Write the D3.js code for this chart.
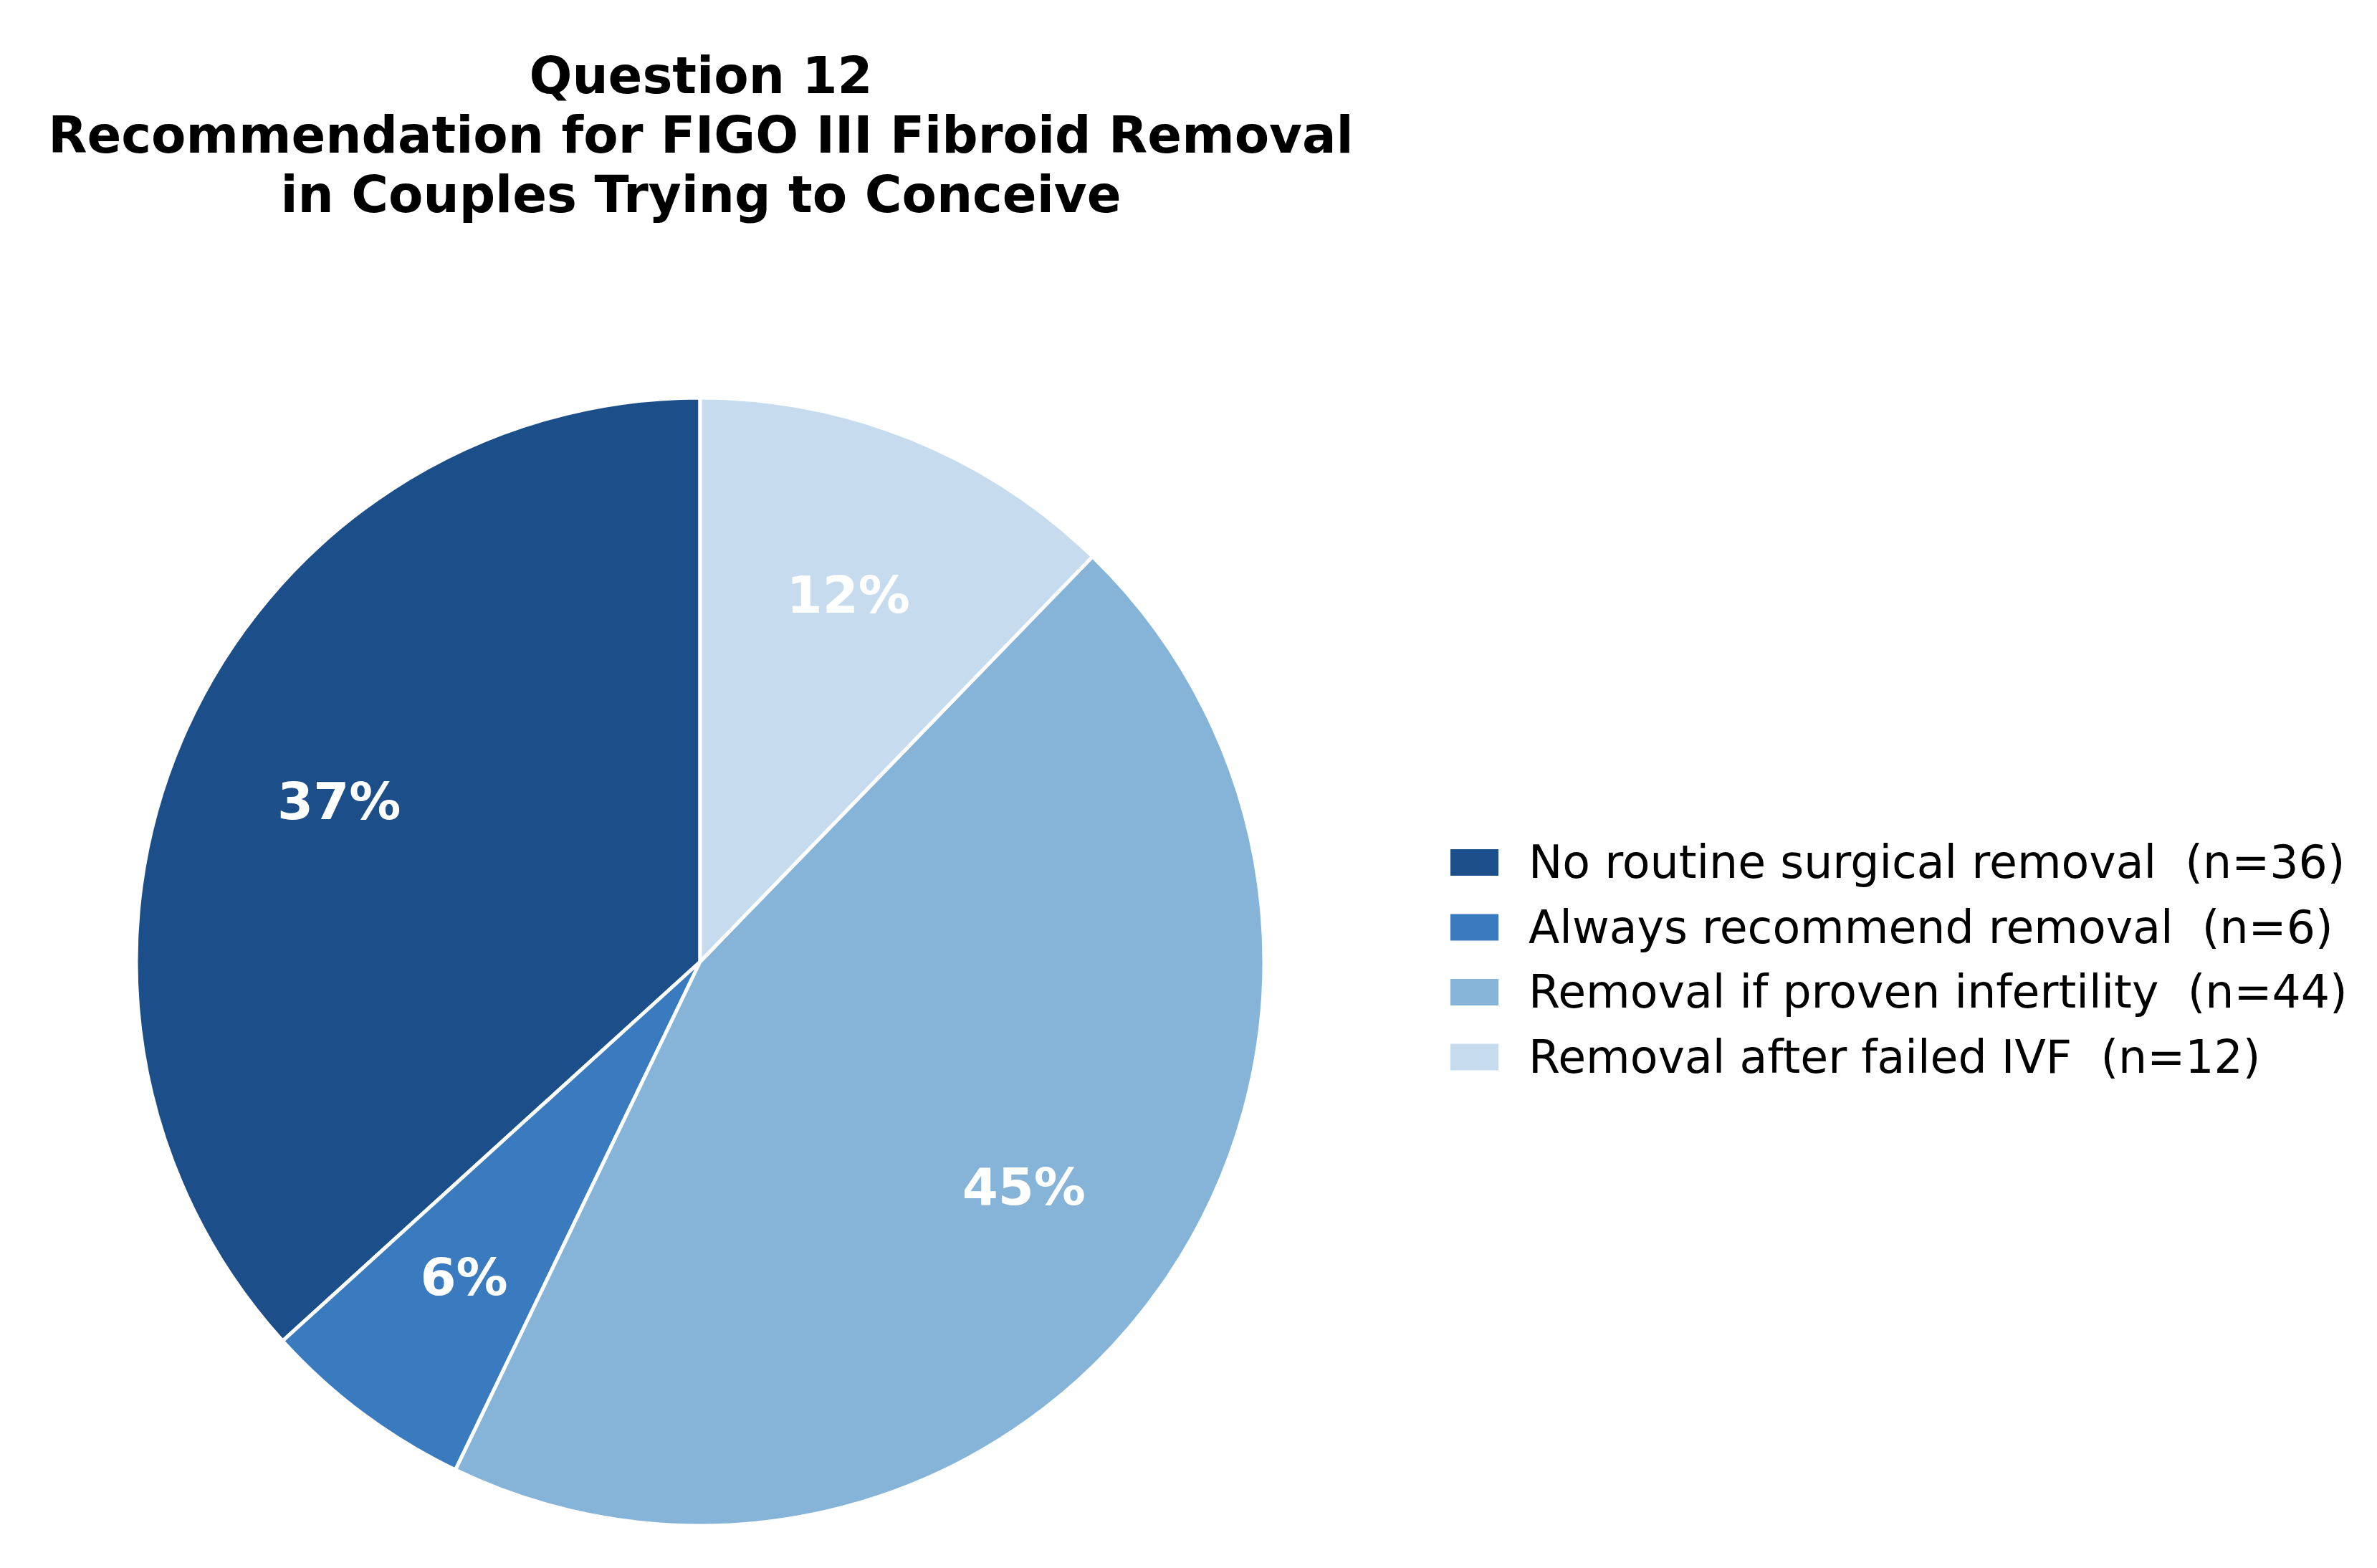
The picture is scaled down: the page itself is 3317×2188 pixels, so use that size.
<!DOCTYPE html>
<html>
<head>
<meta charset="utf-8">
<script src="https://cdn.jsdelivr.net/npm/d3@7"></script>
<style>
  html, body { margin: 0; padding: 0; background: #ffffff; }
  svg text { white-space: pre; }
</style>
</head>
<body>
<script>
const titleLines = ["Question 12", "Recommendation for FIGO III Fibroid Removal", "in Couples Trying to Conceive"];
const categories = ["No routine surgical removal", "Always recommend removal", "Removal if proven infertility", "Removal after failed IVF"];
const counts = [36, 6, 44, 12];
const colors = ["#1c4f8a", "#3a7bbf", "#86b4d8", "#c6dcee"];

const W = 3317, H = 2188;
const cx = 977, cy = 1342, R = 787;

const svg = d3.select("body").append("svg")
  .attr("width", W).attr("height", H)
  .attr("viewBox", `0 0 ${W} ${H}`);
svg.append("rect").attr("width", W).attr("height", H).attr("fill", "#fff");

// Title
const title = svg.append("text")
  .attr("text-anchor", "middle")
  .attr("font-family", "DejaVu Sans")
  .attr("font-weight", "bold")
  .attr("font-size", 70.5)
  .attr("fill", "#000");
const titleBase = [130, 213, 296];
titleLines.forEach((t, i) => {
  title.append("tspan").attr("x", 978).attr("y", titleBase[i]).text(t);
});

// Pie
const total = d3.sum(counts);
const pie = d3.pie().sort(null).value(d => d).startAngle(0).endAngle(-2 * Math.PI);
const arcs = pie(counts);
const arc = d3.arc().innerRadius(0).outerRadius(R);
const labelArc = d3.arc().innerRadius(R * 0.7).outerRadius(R * 0.7);

const g = svg.append("g").attr("transform", `translate(${cx},${cy})`);
g.selectAll("path.slice").data(arcs).enter().append("path")
  .attr("class", "slice")
  .attr("d", arc)
  .attr("fill", (d, i) => colors[i])
  .attr("stroke", "#fff")
  .attr("stroke-width", 5)
  .attr("stroke-linejoin", "round");

const pctFs = 72;
g.selectAll("text.pct").data(arcs).enter().append("text")
  .attr("class", "pct")
  .attr("x", d => labelArc.centroid(d)[0])
  .attr("y", d => labelArc.centroid(d)[1] + pctFs * 0.33)
  .attr("text-anchor", "middle")
  .attr("font-family", "DejaVu Sans")
  .attr("font-weight", "bold")
  .attr("font-size", pctFs)
  .attr("fill", "#fff")
  .text(d => Math.round(d.value / total * 100) + "%");

// Legend
const legY = d3.scaleLinear().domain([0, 3]).range([1225, 1225 + 3 * 90.5]);
const leg = svg.append("g");
categories.forEach((c, i) => {
  const by = legY(i);
  leg.append("rect")
    .attr("x", 2024).attr("y", by - 40)
    .attr("width", 67).attr("height", 37)
    .attr("fill", colors[i]);
  leg.append("text")
    .attr("x", 2133).attr("y", by)
    .attr("font-family", "DejaVu Sans")
    .attr("font-size", 63.3)
    .attr("fill", "#000")
    .text(`${c}  (n=${counts[i]})`);
});
</script>
</body>
</html>
